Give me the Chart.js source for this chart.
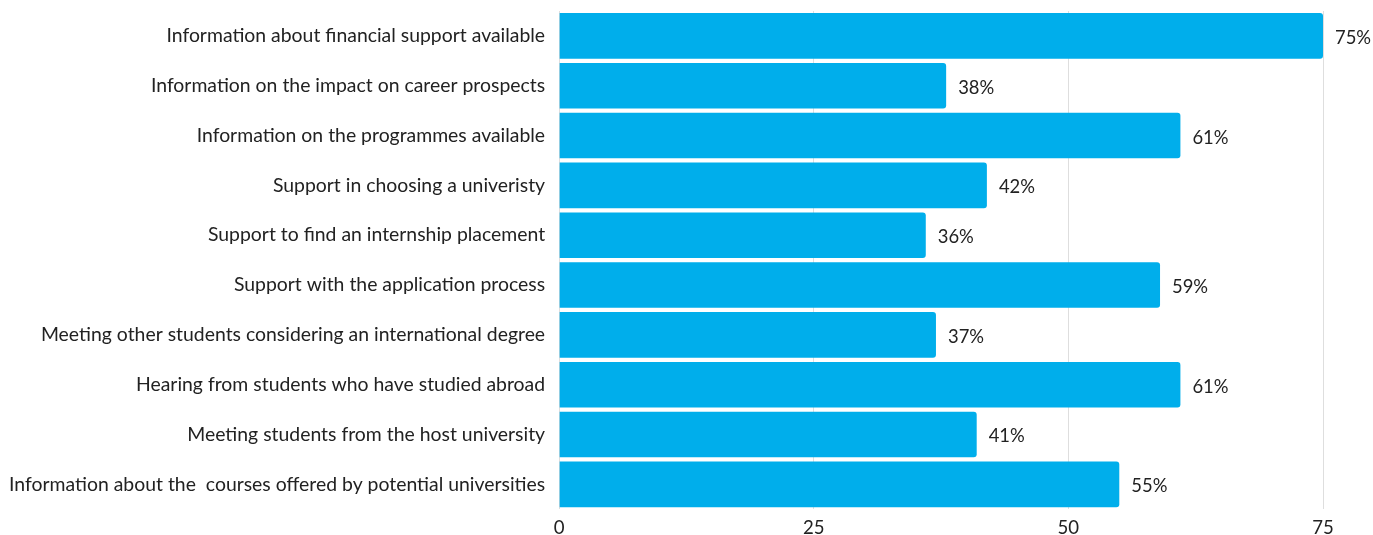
<!DOCTYPE html>
<html>
<head>
<meta charset="utf-8">
<script src="https://cdn.jsdelivr.net/npm/chart.js@4"></script>
<style>
  html, body { margin: 0; padding: 0; background: #fff; overflow: hidden; }
</style>
</head>
<body>
<canvas id="supportChart" width="1373" height="545"></canvas>
<script>
// --- Data ---
const categories = [
  'Information about financial support available',
  'Information on the impact on career prospects',
  'Information on the programmes available',
  'Support in choosing a univeristy',
  'Support to find an internship placement',
  'Support with the application process',
  'Meeting other students considering an international degree',
  'Hearing from students who have studied abroad',
  'Meeting students from the host university',
  'Information about the  courses offered by potential universities',
]
const shares = [75, 38, 61, 42, 36, 59, 37, 61, 41, 55]
const xTicks = [0, 25, 50, 75]

const fontFamily = 'Lato, "Noto Sans", sans-serif'

// Writes "NN%" just past the end of each bar
const valueLabels = {
  id: 'valueLabels',
  afterDatasetsDraw(chart) {
    const { ctx } = chart
    const meta = chart.getDatasetMeta(0)
    ctx.save()
    ctx.font = '18.4px ' + fontFamily
    ctx.fillStyle = '#222'
    ctx.textAlign = 'left'
    ctx.textBaseline = 'middle'
    meta.data.forEach((bar, i) => {
      ctx.fillText(shares[i] + '%', bar.x + 12, bar.y + 2)
    })
    ctx.restore()
  },
}

new Chart(document.getElementById('supportChart'), {
  type: 'bar',
  data: {
    labels: categories,
    datasets: [
      {
        data: shares,
        backgroundColor: '#00aeeb',
        borderRadius: { topRight: 3, bottomRight: 3 },
        borderSkipped: 'start',
        barPercentage: 0.915,
        categoryPercentage: 1,
      },
    ],
  },
  options: {
    indexAxis: 'y',
    responsive: false,
    animation: false,
    layout: { padding: { top: 11, right: 50, bottom: 6, left: 0 } },
    scales: {
      x: {
        min: 0,
        max: 75,
        afterBuildTicks: (axis) => {
          axis.ticks = xTicks.map((v) => ({ value: v }))
        },
        // tick labels run off the bottom edge, so the axis is kept short
        afterFit: (axis) => {
          axis.height -= 8.6
        },
        grid: { color: '#dedede', drawTicks: false },
        border: { display: false },
        ticks: { padding: 8, color: '#222', font: { family: fontFamily, size: 18.6 } },
      },
      y: {
        // labels sit inside their rows, so no extra room above/below is needed
        afterFit: (axis) => {
          axis.paddingTop = 0
          axis.paddingBottom = 0
          axis.width -= 5
        },
        grid: { display: false, drawTicks: false },
        border: { display: false },
        ticks: { padding: 14, color: '#222', font: { family: fontFamily, size: 19.4 } },
      },
    },
    plugins: {
      legend: { display: false },
      tooltip: { enabled: false },
    },
  },
  plugins: [valueLabels],
})
</script>
</body>
</html>
